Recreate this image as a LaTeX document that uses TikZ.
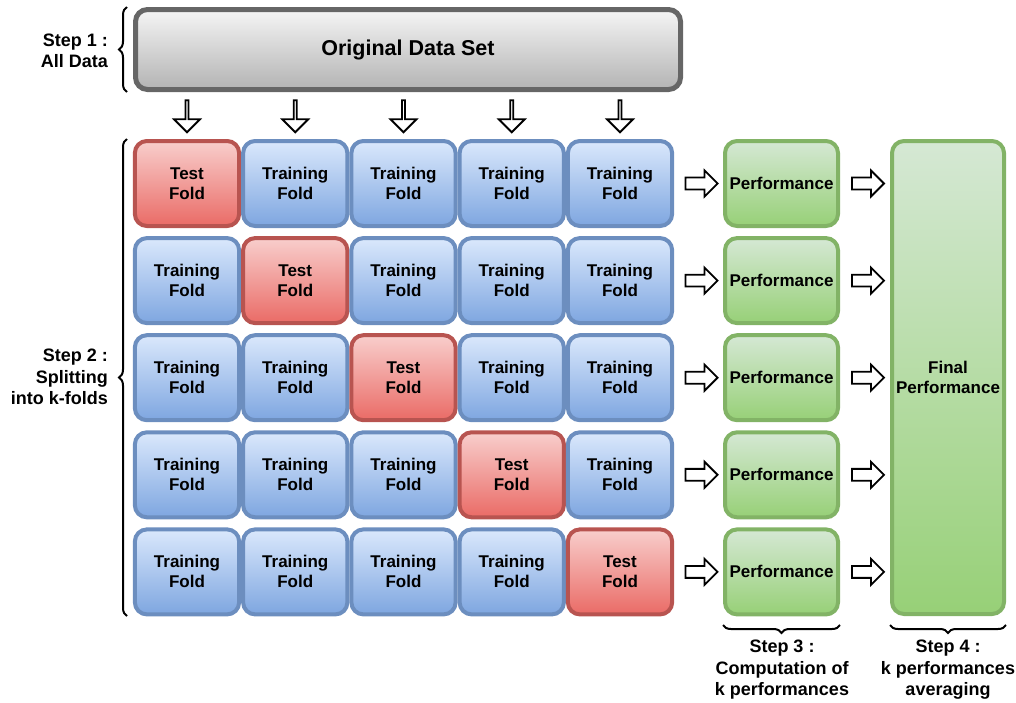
\documentclass[tikz,border=0pt]{standalone}
\usepackage{fontspec}
\setmainfont{Liberation Sans}
\usetikzlibrary{shapes.arrows,decorations.pathreplacing,calc}

\definecolor{grayline}{HTML}{666666}
\definecolor{graytop}{HTML}{F5F5F5}
\definecolor{graybot}{HTML}{B3B3B3}
\definecolor{blueline}{HTML}{6C8EBF}
\definecolor{bluetop}{HTML}{DAE8FC}
\definecolor{bluebot}{HTML}{7EA6E0}
\definecolor{redline}{HTML}{B85450}
\definecolor{redtop}{HTML}{F8CECC}
\definecolor{redbot}{HTML}{EA6B66}
\definecolor{greenline}{HTML}{82B366}
\definecolor{greentop}{HTML}{D5E8D4}
\definecolor{greenbot}{HTML}{97D077}

\tikzset{
  box/.style={rectangle, rounded corners=12pt, line width=4pt, align=center,
    inner sep=0pt, font=\bfseries\fontsize{17}{20}\selectfont},
  trainfold/.style={box, draw=blueline, top color=bluetop, bottom color=bluebot,
    minimum width=104.25pt, minimum height=85pt},
  testfold/.style={box, draw=redline, top color=redtop, bottom color=redbot,
    minimum width=104.25pt, minimum height=85pt},
  perfbox/.style={box, draw=greenline, top color=greentop, bottom color=greenbot},
  databox/.style={box, line width=5pt, draw=grayline, top color=graytop, bottom color=graybot,
    font=\bfseries\fontsize{21.5}{25}\selectfont},
  blockarrow/.style={single arrow, draw=black, fill=white, line width=1.8pt,
    minimum height=32pt, minimum width=26pt, single arrow head extend=7pt,
    single arrow head indent=0pt, inner xsep=0pt, inner ysep=5pt},
  downarrow/.style={blockarrow, shape border rotate=270},
  rightarrow/.style={blockarrow, shape border rotate=0},
  bracket/.style={decorate, decoration={brace, amplitude=8pt}, line width=2pt},
  steplabel/.style={font=\bfseries\fontsize{18}{21.5}\selectfont, inner sep=0pt}
}

\begin{document}
\begin{tikzpicture}[x=1pt, y=-1pt]
\useasboundingbox (0,0) rectangle (1016,702);

% Step 1: the whole data set
\node[databox, minimum width=545pt, minimum height=80pt] (data) at (408,49.5) {Original Data Set};

% Step 2: the k x k grid of folds
\foreach \i in {1,...,5} {
  \foreach \j in {1,...,5} {
    \ifnum\i=\j
      \node[testfold] (f-\i-\j) at ({187+(\j-1)*108.25},{183.5+(\i-1)*97.1}) {Test\\Fold};
    \else
      \node[trainfold] (f-\i-\j) at ({187+(\j-1)*108.25},{183.5+(\i-1)*97.1}) {Training\\Fold};
    \fi
  }
}

% Step 3: one performance per split
\foreach \i in {1,...,5} {
  \node[perfbox, minimum width=113pt, minimum height=85pt] (p-\i) at (781.5,{183.5+(\i-1)*97.1}) {Performance};
}

% Step 4: the averaged performance
\node[perfbox, minimum width=112pt, minimum height=473pt] (final) at (948,377.5) {Final\\Performance};

% arrows from the data set down to the first row of folds
\foreach \j in {1,...,5} {
  \node[downarrow] (d-\j) at ($(f-1-\j.north)!0.5!(f-1-\j.north |- data.south)$) {};
}

% arrows from each row to its performance, then to the final box
\foreach \i in {1,...,5} {
  \node[rightarrow] (r-\i) at ($(f-\i-5.east)!0.5!(p-\i.west)$) {};
  \node[rightarrow] (q-\i) at ($(p-\i.east)!0.5!(p-\i.east -| final.west)$) {};
}

% braces and step captions
\coordinate (b1s) at (127,92);
\coordinate (b1e) at (127,7);
\draw[bracket] (b1s) -- (b1e);
\node[steplabel, anchor=east, align=right] (s1) at (108,51) {Step 1 :\\All Data};

\coordinate (b2s) at (127,616);
\coordinate (b2e) at (127,139);
\draw[bracket] (b2s) -- (b2e);
\node[steplabel, anchor=east, align=right] (s2) at (108,377) {Step 2 :\\Splitting\\into k-folds};

\coordinate (b3s) at (840,625);
\coordinate (b3e) at (723,625);
\draw[bracket] (b3s) -- (b3e);
\node[steplabel, align=center] (s3) at (782,670) {Step 3 :\\Computation of\\k performances};

\coordinate (b4s) at (1006,625);
\coordinate (b4e) at (890,625);
\draw[bracket] (b4s) -- (b4e);
\node[steplabel, align=center] (s4) at (948,670) {Step 4 :\\k performances\\averaging};
\end{tikzpicture}
\end{document}
